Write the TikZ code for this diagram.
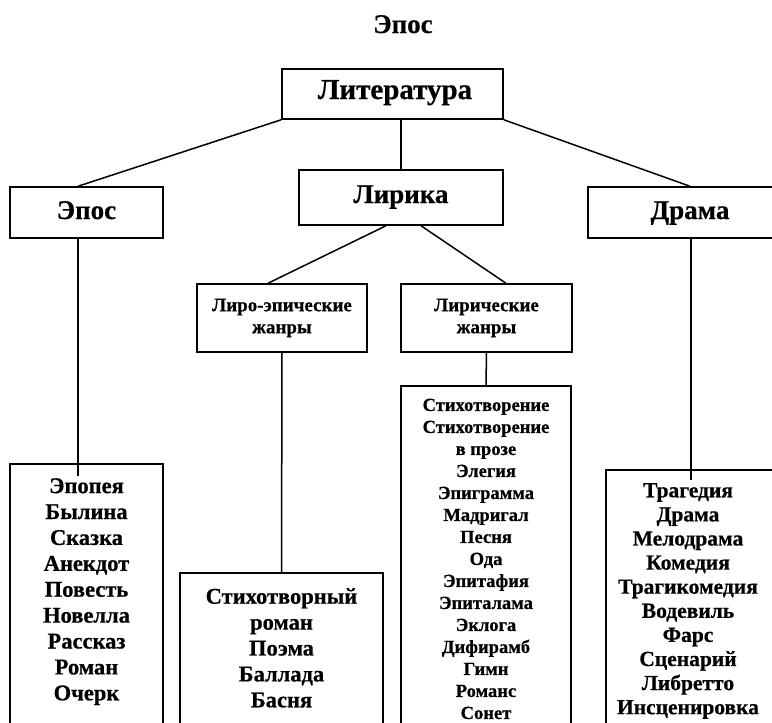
\documentclass[tikz,border=0pt]{standalone}
\usepackage{fontspec}
\setmainfont{Liberation Serif}[BoldFeatures={FakeBold=0.6}]
\begin{document}
\begin{tikzpicture}[x=1pt,y=-1pt,
  box/.style={draw, line width=1.5pt, rectangle, inner sep=0pt},
  conn/.style={line width=1.5pt},
  head/.style={font=\fontsize{27}{30}\selectfont\bfseries, inner sep=0pt, anchor=base},
  mid/.style={font=\fontsize{19}{22}\selectfont\bfseries, align=center, inner sep=0pt},
  lista/.style={font=\fontsize{22.5}{25.9}\selectfont\bfseries, align=center, inner sep=0pt, anchor=north},
  listb/.style={font=\fontsize{18.5}{22}\selectfont\bfseries, align=center, inner sep=0pt, anchor=north},
  listc/.style={font=\fontsize{21.5}{24.1}\selectfont\bfseries, align=center, inner sep=0pt, anchor=north}
]
\useasboundingbox (0,0) rectangle (772,723);
\clip (0,0) rectangle (772,723);

% title
\node[head] (title) at (403,33) {Эпос};

% level boxes
\node[box, minimum width=221pt, minimum height=50pt] (lit) at (392.5,94) {};
\node[head, font=\fontsize{29}{32}\selectfont\bfseries] (littxt) at (395,99) {Литература};

\node[box, minimum width=153pt, minimum height=51pt] (epos) at (86.5,212.5) {};
\node[head] (epostxt) at (86.5,219) {Эпос};

\node[box, minimum width=204pt, minimum height=55pt] (lir) at (401,197.5) {};
\node[head] (lirtxt) at (401,203) {Лирика};

\node[box, minimum width=220pt, minimum height=51pt] (dram) at (698,212.5) {};
\node[head] (dramtxt) at (690,219) {Драма};

\node[box, minimum width=170pt, minimum height=68pt] (lyro) at (282,318) {};
\node[mid] (lyrotxt) at (282,318) {Лиро-эпические\\жанры};

\node[box, minimum width=171pt, minimum height=68pt] (lyric) at (486.5,318) {};
\node[mid] (lyrictxt) at (486.5,318) {Лирические\\жанры};

% list boxes (run past the bottom edge)
\node[box, minimum width=153pt, minimum height=300pt, anchor=north] (eposl) at (86.5,463) {};
\node[lista] (eposltxt) at (86.5,478) {Эпопея\\Былина\\Сказка\\Анекдот\\Повесть\\Новелла\\Рассказ\\Роман\\Очерк};

\node[box, minimum width=203pt, minimum height=200pt, anchor=north] (lyrol) at (281.5,572) {};
\node[lista] (lyroltxt) at (281.5,588) {Стихотворный\\роман\\Поэма\\Баллада\\Басня};

\node[box, minimum width=170pt, minimum height=400pt, anchor=north] (lyricl) at (486,385) {};
\node[listb] (lyricltxt) at (486,398.5) {Стихотворение\\Стихотворение\\в прозе\\Элегия\\Эпиграмма\\Мадригал\\Песня\\Ода\\Эпитафия\\Эпиталама\\Эклога\\Дифирамб\\Гимн\\Романс\\Сонет};

\node[box, minimum width=200pt, minimum height=300pt, anchor=north] (draml) at (706,469) {};
\node[listc] (dramltxt) at (688,483) {Трагедия\\Драма\\Мелодрама\\Комедия\\Трагикомедия\\Водевиль\\Фарс\\Сценарий\\Либретто\\Инсценировка};

% connectors
\coordinate (eposx) at (78,238);
\draw[conn] (lit.south west) -- (eposx |- epos.north);
\draw[conn] (lit.south) ++(8.5,0) coordinate (litm) -- (litm |- lir.north);
\draw[conn] (lit.south east) -- ([xshift=-8pt]dram.north);
\draw[conn] ([xshift=-15pt]lir.south) -- ([xshift=-14pt]lyro.north);
\draw[conn] ([xshift=20pt]lir.south) -- ([xshift=19.5pt]lyric.north);
\draw[conn] (eposx |- epos.south) -- ([yshift=-13pt]eposx |- eposl.north);
\draw[conn] (lyro.south) -- (lyrol.north);
\draw[conn] (lyric.south) -- (lyricl.north);
\coordinate (dramx) at (691,238);
\draw[conn] (dramx |- dram.south) -- ([yshift=-11pt]dramx |- draml.north);
\end{tikzpicture}
\end{document}
